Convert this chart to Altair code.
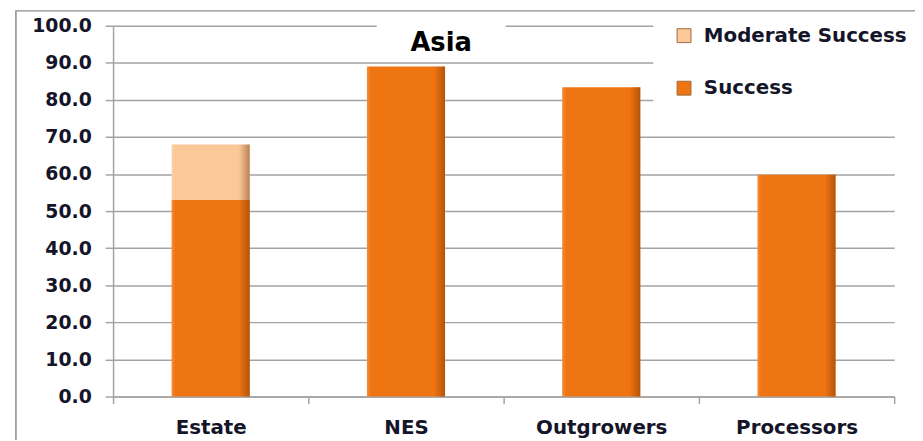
import altair as alt
import pandas as pd

categories = ["Estate", "NES", "Outgrowers", "Processors"]
success = [53.0, 89.0, 83.4, 59.8]
moderate = [15.0, 0.0, 0.0, 0.0]
series = ["Moderate Success", "Success"]
series_colors = ["#fbc898", "#ef7412"]
y_ticks = [0, 10, 20, 30, 40, 50, 60, 70, 80, 90, 100]
title_text = ["Asia"]

rows = []
for c, s, m in zip(categories, success, moderate):
    rows.append({"cat": c, "series": "Success", "value": s, "ord": 0})
    if m > 0:
        rows.append({"cat": c, "series": "Moderate Success", "value": m, "ord": 1})
df = pd.DataFrame(rows)

TXT = "#15152a"
GRID = "#a3a3a3"
FONT = "DejaVu Sans"

x_enc = alt.X(
    "cat:N",
    sort=categories,
    scale=alt.Scale(paddingInner=0, paddingOuter=0),
    axis=alt.Axis(
        title=None, labelAngle=0, tickBand="extent", tickSize=7,
        tickColor=GRID, tickWidth=1.5, domainColor=GRID, domainWidth=1.5,
        labelFont=FONT, labelFontWeight="bold", labelFontSize=20,
        labelColor=TXT, labelPadding=14, grid=False,
    ),
)
y_enc = alt.Y(
    "value:Q",
    stack="zero",
    scale=alt.Scale(domain=[0, 100], nice=False),
    axis=alt.Axis(
        title=None, values=y_ticks, format=".1f", tickSize=8,
        tickColor=GRID, tickWidth=1.5, domainColor=GRID, domainWidth=1.5,
        grid=True, gridColor=GRID, gridWidth=1.5, labelOverlap=False,
        labelFont=FONT, labelFontWeight="bold", labelFontSize=19,
        labelColor=TXT, labelPadding=14,
    ),
)

base = alt.Chart(df)

bars = base.mark_bar(width=alt.RelativeBandSize(0.4)).encode(
    x=x_enc,
    y=y_enc,
    color=alt.Color(
        "series:N",
        scale=alt.Scale(domain=series, range=series_colors),
        legend=alt.Legend(
            title=None, orient="none", legendX=566, legendY=0, padding=0,
            symbolType="square", symbolSize=196, symbolStrokeColor="#9a6a40",
            symbolStrokeWidth=1, symbolOpacity=1,
            labelFont=FONT, labelFontWeight="bold", labelFontSize=20,
            labelColor=TXT, labelOffset=10, labelLimit=0, rowPadding=33,
        ),
    ),
    order=alt.Order("ord:Q"),
)

shade = base.mark_bar(
    width=alt.RelativeBandSize(0.4),
    color=alt.LinearGradient(
        gradient="linear", x1=0, x2=1, y1=0, y2=0,
        stops=[
            alt.GradientStop(offset=0, color="rgba(255,255,255,0.18)"),
            alt.GradientStop(offset=0.05, color="rgba(255,255,255,0)"),
            alt.GradientStop(offset=0.86, color="rgba(110,45,0,0)"),
            alt.GradientStop(offset=1, color="rgba(110,45,0,0.45)"),
        ],
    ),
).encode(
    x=x_enc,
    y=y_enc,
    detail="series:N",
    order=alt.Order("ord:Q"),
)

dummy = alt.Chart(pd.DataFrame({"a": [0]}))

title_box = dummy.mark_rect(color="white").encode(
    x=alt.value(266), x2=alt.value(396), y=alt.value(-16), y2=alt.value(31)
)
legend_box = dummy.mark_rect(color="white").encode(
    x=alt.value(545), x2=alt.value(820), y=alt.value(-16), y2=alt.value(91)
)

title = alt.Chart(pd.DataFrame({"t": title_text})).mark_text(
    font=FONT, fontWeight="bold", fontSize=26, color="black",
    align="center", baseline="alphabetic",
).encode(text="t:N", x=alt.value(331), y=alt.value(25))

frame = dummy.mark_rect(fillOpacity=0, stroke="#8c8c8c", strokeWidth=1.5).encode(
    x=alt.value(-98), x2=alt.value(1000), y=alt.value(-15), y2=alt.value(1000)
)

chart = alt.layer(title_box, legend_box, bars, shade, title, frame).properties(
    width=788,
    height=374,
    padding={"left": 106, "top": 16, "right": 21, "bottom": 42},
    autosize=alt.AutoSizeParams(type="none"),
    background="white",
).configure_view(stroke=None)

chart.save("out.html", embed_options={"renderer": "svg", "actions": False})
